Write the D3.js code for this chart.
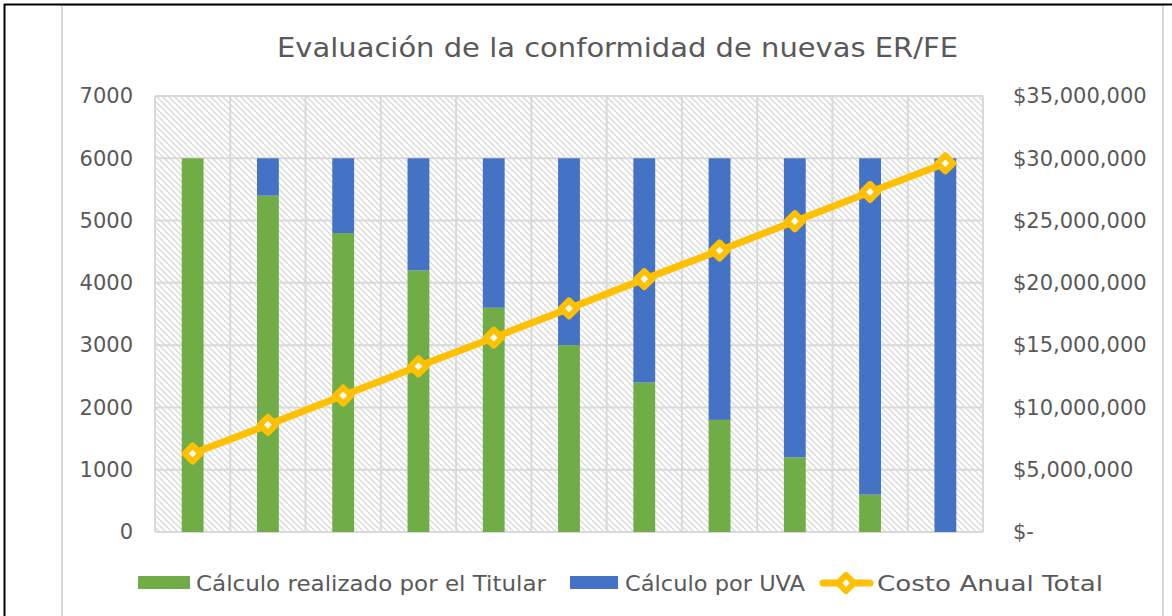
<!DOCTYPE html>
<html>
<head>
<meta charset="utf-8">
<script src="https://cdn.jsdelivr.net/npm/d3@7"></script>
<style>
  body { margin: 0; background: #fff; }
  svg text { font-family: "DejaVu Sans", sans-serif; fill: #595959; }
</style>
</head>
<body>
<svg id="chart"></svg>
<script>
const categories = ["1", "2", "3", "4", "5", "6", "7", "8", "9", "10", "11"]
const titular = [6000, 5400, 4800, 4200, 3600, 3000, 2400, 1800, 1200, 600, 0]
const uva = [0, 600, 1200, 1800, 2400, 3000, 3600, 4200, 4800, 5400, 6000]
const costo = [6300000, 8600000, 10950000, 13300000, 15600000, 17950000, 20300000, 22600000, 24950000, 27300000, 29600000]
const leftTicks = [0, 1000, 2000, 3000, 4000, 5000, 6000, 7000]
const rightTicks = [0, 5000000, 10000000, 15000000, 20000000, 25000000, 30000000, 35000000]

const W = 1172, H = 616
const plot = { left: 155, right: 983, top: 96, bottom: 532 }

const svg = d3.select("#chart").attr("width", W).attr("height", H)

// chart frame
svg.append("rect").attr("x", 62).attr("y", 5).attr("width", 1101).attr("height", 620)
  .attr("fill", "#fff").attr("stroke", "#d9d9d9").attr("stroke-width", 2)
svg.append("line").attr("x1", 4.5).attr("x2", 4.5).attr("y1", 4).attr("y2", H).attr("stroke", "#000").attr("stroke-width", 2)
svg.append("line").attr("x1", 4).attr("x2", W).attr("y1", 4.5).attr("y2", 4.5).attr("stroke", "#000").attr("stroke-width", 2)

const defs = svg.append("defs")
const pat = defs.append("pattern").attr("id", "hatch").attr("patternUnits", "userSpaceOnUse")
  .attr("width", 6).attr("height", 6)
pat.append("rect").attr("width", 6).attr("height", 6).attr("fill", "#fff")
pat.append("path").attr("d", "M-1,-1 L7,7 M-1,5 L1,7 M5,-1 L7,1")
  .attr("stroke", "#dadada").attr("stroke-width", 1.4)

const x = d3.scaleBand().domain(categories).range([plot.left, plot.right]).paddingInner(0.71).paddingOuter(0.355)
const xCell = d3.scaleBand().domain(categories).range([plot.left, plot.right])
const y = d3.scaleLinear().domain([0, 7000]).range([plot.bottom, plot.top])
const y2 = d3.scaleLinear().domain([0, 35000000]).range([plot.bottom, plot.top])

svg.append("rect").attr("x", plot.left).attr("y", plot.top)
  .attr("width", plot.right - plot.left).attr("height", plot.bottom - plot.top)
  .attr("fill", "url(#hatch)")

// gridlines
const grid = svg.append("g").attr("stroke", "#d9d9d9").attr("stroke-width", 2)
grid.selectAll(".h").data(leftTicks).enter().append("line")
  .attr("x1", plot.left).attr("x2", plot.right)
  .attr("y1", d => y(d)).attr("y2", d => y(d))
grid.selectAll(".v").data(categories.concat(["end"])).enter().append("line")
  .attr("x1", d => d === "end" ? plot.right : xCell(d)).attr("x2", d => d === "end" ? plot.right : xCell(d))
  .attr("y1", plot.top).attr("y2", plot.bottom)

// stacked bars
const stack = d3.stack().keys(["titular", "uva"])
const rows = categories.map((c, i) => ({ cat: c, titular: titular[i], uva: uva[i] }))
const colors = { titular: "#70AD47", uva: "#4472C4" }
const layers = stack(rows)
svg.append("g").selectAll("g").data(layers).enter().append("g")
  .attr("fill", d => colors[d.key])
  .selectAll("rect").data(d => d).enter().append("rect")
  .attr("x", d => x(d.data.cat))
  .attr("width", x.bandwidth())
  .attr("y", d => y(d[1]))
  .attr("height", d => y(d[0]) - y(d[1]))

// line
const cx = c => x(c) + x.bandwidth() / 2
const line = d3.line().x((d, i) => cx(categories[i])).y(d => y2(d))
svg.append("path").datum(costo).attr("d", line)
  .attr("fill", "none").attr("stroke", "#FFC000").attr("stroke-width", 7)
  .attr("stroke-linejoin", "round")
svg.append("g").selectAll("path").data(costo).enter().append("path")
  .attr("d", d3.symbol(d3.symbolSquare, 130))
  .attr("transform", (d, i) => `translate(${cx(categories[i])},${y2(d)}) rotate(45)`)
  .attr("fill", "#fff").attr("stroke", "#FFC000").attr("stroke-width", 6).attr("stroke-linejoin", "round")

// axes labels
svg.append("g").selectAll("text").data(leftTicks).enter().append("text")
  .attr("x", 133).attr("y", d => y(d)).attr("dy", "0.35em").attr("text-anchor", "end")
  .style("font-size", "21px").text(d => d)

const fmt = d => d === 0 ? "$-" : "$" + d3.format(",")(d)
svg.append("g").selectAll("text").data(rightTicks).enter().append("text")
  .attr("x", 1013).attr("y", d => y2(d)).attr("dy", "0.35em").attr("text-anchor", "start")
  .style("font-size", "21px").text(fmt)

// title
svg.append("text").attr("x", 277).attr("y", 57)
  .attr("textLength", 681).attr("lengthAdjust", "spacingAndGlyphs")
  .style("font-size", "27px").text("Evaluación de la conformidad de nuevas ER/FE")

// legend
const legend = svg.append("g")
legend.append("rect").attr("x", 138).attr("y", 576).attr("width", 52).attr("height", 13).attr("fill", colors.titular)
legend.append("text").attr("x", 196).attr("y", 591).attr("textLength", 350).attr("lengthAdjust", "spacingAndGlyphs")
  .style("font-size", "22px").text("Cálculo realizado por el Titular")
legend.append("rect").attr("x", 570).attr("y", 576).attr("width", 48).attr("height", 13).attr("fill", colors.uva)
legend.append("text").attr("x", 625).attr("y", 591).attr("textLength", 180).attr("lengthAdjust", "spacingAndGlyphs")
  .style("font-size", "22px").text("Cálculo por UVA")
legend.append("line").attr("x1", 823).attr("x2", 870).attr("y1", 583).attr("y2", 583)
  .attr("stroke", "#FFC000").attr("stroke-width", 7).attr("stroke-linecap", "round")
legend.append("path").attr("d", d3.symbol(d3.symbolSquare, 130))
  .attr("transform", "translate(846,583) rotate(45)")
  .attr("fill", "#fff").attr("stroke", "#FFC000").attr("stroke-width", 6).attr("stroke-linejoin", "round")
legend.append("text").attr("x", 877).attr("y", 591).attr("textLength", 226).attr("lengthAdjust", "spacingAndGlyphs")
  .style("font-size", "22px").text("Costo Anual Total")
</script>
</body>
</html>
